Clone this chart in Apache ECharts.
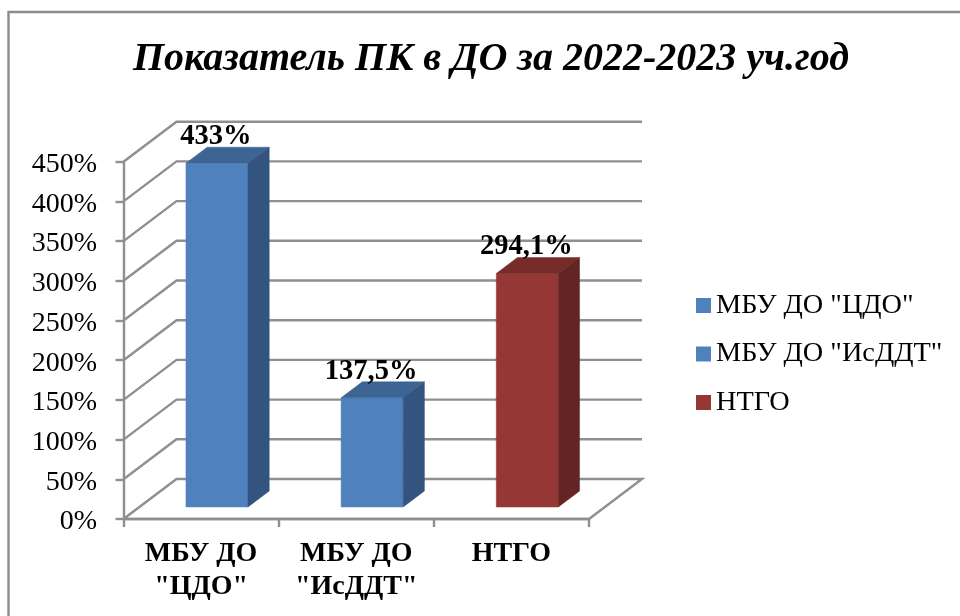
<!DOCTYPE html>
<html>
<head>
<meta charset="utf-8">
<style>html,body{margin:0;padding:0;background:#fff}#c{width:960px;height:616px}</style>
<script src="https://cdn.jsdelivr.net/npm/echarts@6/dist/echarts.min.js"></script>
</head>
<body>
<div id="c"></div>
<script>
const chartTitle = 'Показатель ПК в ДО за 2022-2023 уч.год';
const axisCategories = ['МБУ ДО\n"ЦДО"', 'МБУ ДО\n"ИсДДТ"', 'НТГО'];
const seriesNames = ['МБУ ДО "ЦДО"', 'МБУ ДО "ИсДДТ"', 'НТГО'];
const values = [433, 137.5, 294.1];
const valueLabels = ['433%', '137,5%', '294,1%'];
const yTicks = [0, 50, 100, 150, 200, 250, 300, 350, 400, 450];
const frontColors = ['#4f81bd', '#4f81bd', '#953735'];
const topColors = ['#3e6494', '#3e6494', '#772c2a'];
const sideColors = ['#33547e', '#33547e', '#632523'];

const FONT = '"Liberation Serif","Times New Roman",serif';
const GRID_COLOR = '#8f8f8f';
const DEPTH_X = 53, DEPTH_Y = 40;       // full projected floor depth
const BAR_NEAR = 0.3, BAR_FAR = 0.7;    // bar position within the depth

function poly(points, fill) {
  return { type: 'polygon', shape: { points }, style: { fill, stroke: fill, lineWidth: 0.5 } };
}
function line(points) {
  return { type: 'polyline', shape: { points }, style: { stroke: GRID_COLOR, lineWidth: 2.4, fill: null }, silent: true };
}
function renderWall(params, api) {
  const v = api.value(0);
  const p = api.coord([0, v]);
  const cs = params.coordSys;
  const left = cs.x, right = cs.x + cs.width, y = p[1];
  const pts = [[left, y], [left + DEPTH_X, y - DEPTH_Y], [right + DEPTH_X, y - DEPTH_Y]];
  if (v === 0) pts.push([right, y], [left, y]);
  return line(pts);
}
function renderBar(params, api) {
  const i = api.value(0), v = api.value(1);
  const c0 = api.coord([i, 0]), c1 = api.coord([i, v]);
  const w = api.size([1, 0])[0] / 2.5;
  const nx = DEPTH_X * BAR_NEAR, ny = DEPTH_Y * BAR_NEAR;
  const dx = DEPTH_X * (BAR_FAR - BAR_NEAR), dy = DEPTH_Y * (BAR_FAR - BAR_NEAR);
  const l = c0[0] - w / 2 + nx, r = l + w, b = c0[1] - ny, t = c1[1] - ny;
  return {
    type: 'group',
    children: [
      poly([[l, t], [r, t], [r, b], [l, b]], frontColors[i]),
      poly([[l, t], [r, t], [r + dx, t - dy], [l + dx, t - dy]], topColors[i]),
      poly([[r, t], [r + dx, t - dy], [r + dx, b - dy], [r, b]], sideColors[i]),
      { type: 'text', z2: 10, style: { x: l + w / 2 - 1, y: t - 12, text: valueLabels[i], align: 'center', verticalAlign: 'bottom',
        font: 'bold 28.5px ' + FONT, fill: '#000' } }
    ]
  };
}

const chart = echarts.init(document.getElementById('c'), null, { renderer: 'canvas' });
chart.setOption({
  animation: false,
  backgroundColor: '#fff',
  title: { text: chartTitle, left: 486, top: 35, textAlign: 'center',
    textStyle: { fontFamily: FONT, fontWeight: 'bold', fontStyle: 'italic', fontSize: 40, color: '#000' } },
  graphic: [{ type: 'rect', shape: { x: 8.5, y: 12, width: 960, height: 620 }, style: { fill: 'none', stroke: '#8c8c8c', lineWidth: 2.4 }, silent: true }],
  legend: {
    left: 691, top: 282.5, orient: 'vertical', itemWidth: 15, itemHeight: 15, itemGap: 12.5,
    icon: 'rect', selectedMode: false,
    data: seriesNames,
    textStyle: { fontFamily: FONT, fontSize: 28.3, lineHeight: 32, color: '#000', padding: [4, 0, 0, 0] }
  },
  grid: { left: 123.5, right: 371, top: 161.7, bottom: 97 },
  xAxis: {
    type: 'category', data: axisCategories,
    axisLine: { lineStyle: { color: GRID_COLOR, width: 2.4 } },
    axisTick: { show: true, alignWithLabel: false, length: 8, lineStyle: { color: GRID_COLOR, width: 2.4 } },
    axisLabel: { fontFamily: FONT, fontWeight: 'bold', fontSize: 28, color: '#000', lineHeight: 33, margin: 18, interval: 0 }
  },
  yAxis: {
    type: 'value', min: 0, max: 450, interval: 50,
    axisLine: { show: true, lineStyle: { color: GRID_COLOR, width: 2.4 } },
    axisTick: { show: true, length: 8, lineStyle: { color: GRID_COLOR, width: 2.4 } },
    splitLine: { show: false },
    axisLabel: { fontFamily: FONT, fontSize: 28, color: '#000', margin: 26.5, formatter: '{value}%', verticalAlign: 'top', lineHeight: 6 }
  },
  series: [
    { type: 'custom', name: 'wall', silent: true, z: 1, renderItem: renderWall, data: yTicks.map(v => [v]),
      encode: { y: 0 }, clip: false, legendHoverLink: false }
  ].concat(seriesNames.map((name, i) => ({
    type: 'custom', name, z: 5 + i, renderItem: renderBar, clip: false,
    itemStyle: { color: frontColors[i] },
    encode: { x: 0, y: 1 },
    data: [[i, values[i]]]
  })))
});
</script>
</body>
</html>
